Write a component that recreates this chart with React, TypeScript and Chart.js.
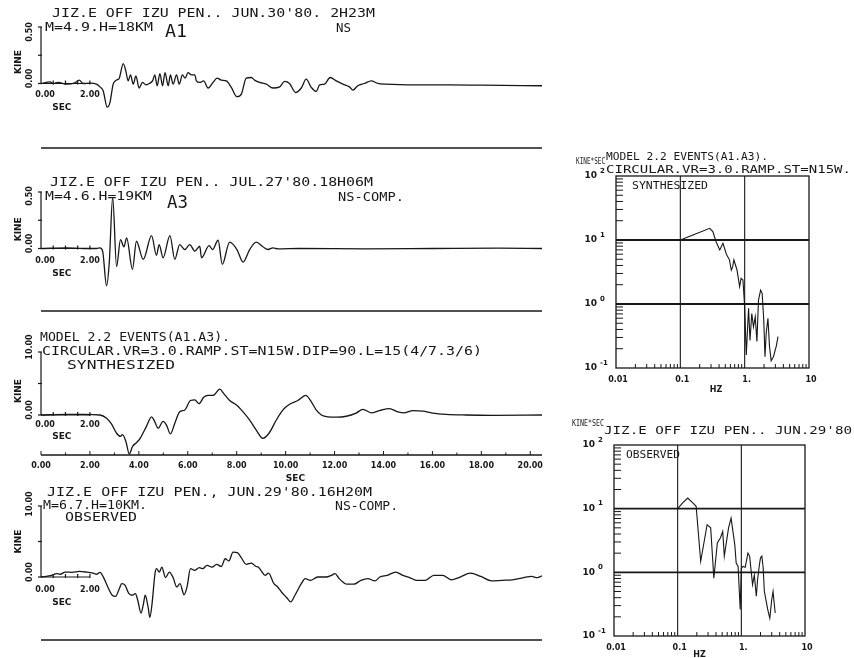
import React, { useEffect, useRef } from "react";
import { Chart, registerables } from "chart.js";

Chart.register(...registerables);

const INK = "#171717";
const MONO = '"DejaVu Sans Mono", monospace';
const SANS = '"DejaVu Sans", sans-serif';

// ---------- velocity seismograms: time (s) and amplitude (kine) ----------
const a1Sec = [0, 0.37, 0.5, 0.71, 1.05, 1.39, 1.56, 1.73, 2.0, 2.27, 2.41, 2.54, 2.71, 2.82, 2.95, 3.09, 3.2, 3.36, 3.47, 3.56, 3.66, 3.77, 3.88, 4.01, 4.15, 4.29, 4.42, 4.56, 4.65, 4.75, 4.86, 4.97, 5.07, 5.2, 5.29, 5.4, 5.54, 5.65, 5.78, 5.89, 6.01, 6.15, 6.29, 6.35, 6.49, 6.65, 6.83, 7.03, 7.2, 7.37, 7.58, 7.78, 8.01, 8.19, 8.39, 8.6, 8.73, 8.94, 9.21, 9.48, 9.76, 9.96, 10.16, 10.41, 10.64, 10.84, 11.05, 11.25, 11.39, 11.59, 11.82, 12.07, 12.34, 12.61, 12.75, 12.95, 13.22, 13.5, 13.77, 14.1, 15.33, 16.7, 18.05, 20.48];
const a1Kine = [0, 0.015, 0, 0.01, -0.006, 0.006, 0.03, 0, 0.003, -0.006, -0.03, -0.064, -0.21, -0.167, -0.006, 0.03, 0.047, 0.175, 0.11, 0.023, 0.076, -0.006, 0.067, -0.04, 0.009, -0.012, 0, 0.023, 0.076, -0.02, 0.088, -0.02, 0.096, -0.02, 0.076, -0.006, 0.076, -0.006, 0.076, 0.047, 0.096, 0.076, 0.076, 0.023, 0.009, 0.023, -0.04, 0.009, 0.047, 0.03, 0.023, -0.035, -0.117, -0.094, 0.047, 0.053, 0.03, 0.009, -0.006, -0.04, -0.03, 0.018, 0, -0.08, -0.04, 0.038, -0.035, -0.07, -0.012, -0.006, 0.053, 0.023, -0.006, -0.03, -0.058, -0.02, 0, 0.023, 0, -0.006, -0.012, -0.012, -0.015, -0.02];

const a3Sec = [0, 1.05, 1.73, 2.27, 2.41, 2.52, 2.68, 2.79, 2.93, 3.09, 3.25, 3.39, 3.5, 3.74, 3.9, 4.18, 4.52, 4.72, 4.83, 4.99, 5.27, 5.47, 5.67, 5.88, 6.08, 6.29, 6.49, 6.56, 6.87, 7.01, 7.24, 7.41, 7.71, 8.01, 8.26, 8.53, 8.8, 9.07, 9.28, 9.48, 9.69, 10.57, 13.29, 16.0, 18.7, 20.48];
const a3Kine = [0, 0.006, 0, 0, 0.006, -0.023, -0.33, -0.126, 0.453, -0.16, 0.079, 0.015, 0.094, -0.184, 0.064, -0.096, 0.114, -0.061, 0.035, -0.082, 0.114, -0.096, 0.035, -0.009, 0.035, -0.023, 0.02, -0.082, 0.026, -0.009, 0.073, -0.14, 0.056, -0.009, -0.12, -0.009, 0.056, 0.015, -0.009, 0.006, -0.003, 0, -0.003, 0, 0.003, 0];

const synSec = [0, 1.05, 1.73, 2.41, 2.68, 2.88, 3.09, 3.25, 3.33, 3.47, 3.61, 3.74, 3.9, 4.04, 4.31, 4.52, 4.63, 4.79, 4.99, 5.13, 5.29, 5.47, 5.67, 5.88, 6.11, 6.29, 6.46, 6.65, 6.83, 7.03, 7.31, 7.47, 7.71, 7.99, 8.26, 8.53, 8.8, 9.07, 9.32, 9.62, 9.89, 10.16, 10.5, 10.82, 11.05, 11.25, 11.46, 11.73, 12.07, 12.48, 12.88, 13.16, 13.5, 13.84, 14.24, 14.59, 14.86, 15.2, 15.61, 16.0, 16.56, 17.37, 18.46, 20.48];
const synKine = [0, 0.1, 0.1, 0, -0.5, -1.4, -2.9, -3.4, -3.1, -4.2, -6.2, -5.0, -4.4, -3.8, -1.8, -0.3, -0.9, -2.1, -1.0, -1.6, -3.0, -1.3, 0.5, 0.8, 2.3, 2.4, 1.8, 2.8, 3.1, 3.1, 4.1, 3.4, 2.3, 1.6, 0.5, -0.8, -2.4, -3.7, -2.9, -0.8, 0.8, 1.7, 2.3, 3.1, 2.1, 0.8, 0, -0.3, -0.35, -0.2, 0.3, 0.9, 0.35, 0.7, 1.0, 0.5, 0.35, 0.7, 0.6, 0.3, 0.1, 0, -0.05, 0];

const obsSec = [0, 0.21, 0.43, 0.64, 0.78, 0.99, 1.27, 1.57, 1.85, 2.13, 2.28, 2.41, 2.56, 2.73, 2.91, 3.05, 3.2, 3.3, 3.44, 3.58, 3.72, 3.86, 3.95, 4.09, 4.19, 4.26, 4.38, 4.45, 4.54, 4.66, 4.72, 4.84, 4.94, 5.09, 5.25, 5.4, 5.55, 5.68, 5.85, 5.97, 6.11, 6.28, 6.47, 6.61, 6.79, 6.99, 7.18, 7.37, 7.53, 7.68, 7.85, 8.03, 8.17, 8.39, 8.6, 8.79, 8.88, 8.99, 9.16, 9.3, 9.52, 9.66, 9.83, 10.02, 10.21, 10.38, 10.64, 10.8, 11.01, 11.31, 11.66, 11.87, 12.02, 12.19, 12.51, 12.79, 13.08, 13.36, 13.65, 13.85, 14.15, 14.5, 14.79, 15.07, 15.35, 15.71, 16.06, 16.42, 16.77, 17.13, 17.55, 17.98, 18.42, 18.84, 19.27, 19.73, 20.06, 20.28, 20.48];
const obsKine = [0, 0.08, 0.23, 0.47, 0.39, 0.7, 0.66, 0.78, 0.7, 0.55, 0.39, 0.66, -0.08, -1.4, -2.57, -2.73, -1.64, -0.94, -1.17, -2.26, -2.57, -2.34, -3.2, -5.07, -3.74, -2.57, -4.29, -5.69, -3.74, 0.47, 1.17, 0.7, 1.4, -0.08, 0.7, -0.08, -1.4, -0.94, -2.5, -1.4, 1.17, 0.94, 1.33, 1.17, 1.64, 1.4, 1.79, 1.48, 2.57, 2.26, 3.51, 3.43, 2.81, 1.79, 1.95, 1.48, 1.4, 0.94, 0.23, 0.55, -0.94, -1.33, -2.11, -2.81, -3.51, -2.57, -0.94, -0.23, -0.47, 0, 0, 0.23, 0.47, -0.23, -1.01, -1.01, -0.47, -0.23, -0.55, 0, 0.23, 0.7, 0.23, -0.08, -0.47, -0.47, 0.23, 0.23, -0.39, 0, 0.55, 0.08, -0.55, -0.47, -0.39, -0.08, 0.08, -0.08, 0.16];

// ---------- Fourier amplitude spectra: frequency (Hz) and amplitude (kine*sec) ----------
const synHz = [0.1, 0.157, 0.286, 0.32, 0.36, 0.41, 0.46, 0.52, 0.58, 0.62, 0.65, 0.68, 0.76, 0.835, 0.88, 0.94, 1.0, 1.06, 1.1, 1.15, 1.21, 1.29, 1.37, 1.46, 1.55, 1.64, 1.77, 1.87, 1.98, 2.07, 2.16, 2.3, 2.43, 2.58, 2.8, 3.1, 3.3];
const synAmp = [10, 12, 15.2, 13.5, 9.4, 7.0, 8.9, 6.0, 4.9, 3.4, 3.8, 4.9, 3.4, 1.87, 2.52, 2.37, 0.91, 0.16, 0.35, 0.86, 0.27, 0.71, 0.44, 0.63, 0.26, 1.15, 1.65, 1.47, 0.56, 0.15, 0.35, 0.6, 0.22, 0.13, 0.15, 0.22, 0.31];

const obsHz = [0.1, 0.12, 0.144, 0.173, 0.195, 0.23, 0.29, 0.33, 0.37, 0.42, 0.47, 0.51, 0.54, 0.63, 0.69, 0.79, 0.83, 0.89, 0.96, 1.0, 1.06, 1.15, 1.27, 1.35, 1.42, 1.5, 1.6, 1.72, 1.8, 1.9, 2.0, 2.1, 2.2, 2.3, 2.6, 2.8, 3.0, 3.15, 3.4];
const obsAmp = [10, 12.3, 14.7, 12.3, 10.9, 1.49, 5.6, 5.0, 0.81, 2.9, 3.5, 4.4, 1.8, 5.0, 7.1, 2.7, 1.4, 1.24, 0.26, 1.17, 1.24, 1.2, 2.0, 1.8, 1.1, 0.64, 0.9, 0.42, 0.77, 1.2, 1.7, 1.8, 1.2, 0.5, 0.26, 0.19, 0.37, 0.5, 0.23];

// ---------- axis ticks ----------
const secTicks = [0, 2, 4, 6, 8, 10, 12, 14, 16, 18, 20];
const secTickLabels = ["0.00", "2.00", "4.00", "6.00", "8.00", "10.00", "12.00", "14.00", "16.00", "18.00", "20.00"];
const hzTicks = [0.01, 0.1, 1, 10];
const hzTickLabels = ["0.01", "0.1", "1.", "10"];
const ampDecades = [100, 10, 1, 0.1];
const ampExponents = ["2", "1", "0", "-1"];

const SEC_MAX = 20.48;

type Label = {
  text: string;
  x: number;
  y: number;
  w?: number;
  size: number;
  bold?: boolean;
  font?: string;
  align?: CanvasTextAlign;
  rot?: boolean;
};

function drawLabel(ctx: CanvasRenderingContext2D, l: Label) {
  ctx.save();
  ctx.font = `${l.bold ? "bold " : ""}${l.size}px ${l.font ?? MONO}`;
  ctx.fillStyle = INK;
  ctx.textBaseline = "middle";
  ctx.translate(l.x, l.y);
  if (l.rot) ctx.rotate(-Math.PI / 2);
  if (l.w) {
    const m = ctx.measureText(l.text).width;
    ctx.scale(l.w / m, 1);
    ctx.textAlign = "left";
  } else {
    ctx.textAlign = l.align ?? "center";
  }
  ctx.fillText(l.text, 0, 0);
  ctx.restore();
}

function seg(ctx: CanvasRenderingContext2D, ax: number, ay: number, bx: number, by: number) {
  ctx.beginPath();
  ctx.moveTo(ax, ay);
  ctx.lineTo(bx, by);
  ctx.stroke();
}

// ---------- seismogram panels ----------
interface SeisPanel {
  top: number;
  height: number;
  padTop: number;
  padBottom: number;
  sec: number[];
  kine: number[];
  yMin: number;
  yMax: number;
  yTopLabel: string;
  topLabelDy: number;
  kineAt: number;
  labDy: number;
  secDy: number;
  fullAxis: boolean;
  titles: Label[];
}

const SEIS_LEFT = 41;
const SEIS_WIDTH = 560;
const SEIS_RIGHT_PAD = 18;

function seisPlugin(p: SeisPanel) {
  return {
    id: "seisFrame",
    afterDatasetsDraw(chart: any) {
      const ctx: CanvasRenderingContext2D = chart.ctx;
      const a = chart.chartArea;
      const X = (t: number) => chart.scales.x.getPixelForValue(t);
      const Y = (v: number) => chart.scales.y.getPixelForValue(v);
      const x0 = X(0);
      const y0 = Y(0);
      const yT = Y(p.yMax);
      ctx.save();
      ctx.strokeStyle = INK;
      ctx.lineWidth = 1.2;
      // amplitude axis
      seg(ctx, x0, y0, x0, yT);
      [0, p.yMax / 2, p.yMax].forEach((v) => seg(ctx, x0 - 3, Y(v), x0 + 1, Y(v)));
      // short time scale 0-2 s
      seg(ctx, x0, y0, X(2), y0);
      [0.5, 1, 1.5, 2].forEach((t) => seg(ctx, X(t), y0 + 1, X(t), y0 - 3));
      if (p.fullAxis) {
        ctx.lineWidth = 1.4;
        seg(ctx, a.left, a.bottom, a.right, a.bottom);
        ctx.lineWidth = 1;
        for (let t = 0; t <= 20; t++) seg(ctx, X(t), a.bottom, X(t), a.bottom - (t % 2 === 0 ? 4 : 2.5));
      } else {
        ctx.lineWidth = 1.7;
        seg(ctx, a.left, a.bottom, a.right, a.bottom);
      }
      ctx.restore();

      drawLabel(ctx, { text: p.yTopLabel, x: x0 - 11, y: yT + p.topLabelDy, size: 8, bold: true, font: SANS, rot: true });
      drawLabel(ctx, { text: "0.00", x: x0 - 11, y: y0 - 5, size: 8, bold: true, font: SANS, rot: true });
      drawLabel(ctx, { text: "KINE", x: x0 - 22, y: Y(p.kineAt), size: 9, bold: true, font: SANS, rot: true });
      drawLabel(ctx, { text: "0.00", x: X(0) + 4, y: y0 + p.labDy, size: 8, bold: true, font: SANS });
      drawLabel(ctx, { text: "2.00", x: X(2), y: y0 + p.labDy, size: 8, bold: true, font: SANS });
      drawLabel(ctx, { text: "SEC", x: X(0.85), y: y0 + p.secDy, size: 9, bold: true, font: SANS });
      if (p.fullAxis) {
        secTicks.forEach((t, i) =>
          drawLabel(ctx, { text: secTickLabels[i], x: X(t), y: a.bottom + 11, size: 8, bold: true, font: SANS })
        );
        drawLabel(ctx, { text: "SEC", x: X(10.4), y: a.bottom + 24, size: 9, bold: true, font: SANS });
      }
      p.titles.forEach((l) => drawLabel(ctx, { ...l, y: l.y - p.top }));
    },
  };
}

function buildSeis(p: SeisPanel) {
  return (canvas: HTMLCanvasElement) =>
    new Chart(canvas, {
      type: "line",
      data: {
        datasets: [
          {
            data: p.sec.map((t, i) => ({ x: t, y: p.kine[i] })),
            borderColor: INK,
            borderWidth: 1.3,
            pointRadius: 0,
            cubicInterpolationMode: "monotone",
            fill: false,
          },
        ],
      },
      options: {
        responsive: false,
        animation: false,
        devicePixelRatio: 1,
        events: [],
        layout: { padding: { left: SEIS_LEFT, right: SEIS_RIGHT_PAD, top: p.padTop, bottom: p.padBottom } },
        scales: {
          x: { type: "linear", min: 0, max: SEC_MAX, display: false },
          y: { type: "linear", min: p.yMin, max: p.yMax, display: false },
        },
        plugins: { legend: { display: false }, tooltip: { enabled: false } },
      },
      plugins: [seisPlugin(p)],
    } as any);
}

const panelA1: SeisPanel = {
  top: 0,
  height: 155,
  padTop: 27,
  padBottom: 7,
  sec: a1Sec,
  kine: a1Kine,
  yMin: -0.571,
  yMax: 0.5,
  yTopLabel: "0.50",
  topLabelDy: 5,
  kineAt: 0.19,
  labDy: 11,
  secDy: 24,
  fullAxis: false,
  titles: [
    { text: "JIZ.E OFF IZU PEN.. JUN.30'80. 2H23M", x: 52, y: 14, w: 323, size: 13 },
    { text: "M=4.9.H=18KM", x: 45, y: 28, w: 108, size: 13 },
    { text: "A1", x: 165, y: 33, w: 22, size: 17 },
    { text: "NS", x: 336, y: 29, w: 15, size: 13 },
  ],
};

const panelA3: SeisPanel = {
  top: 168,
  height: 150,
  padTop: 24,
  padBottom: 7,
  sec: a3Sec,
  kine: a3Kine,
  yMin: -0.553,
  yMax: 0.5,
  yTopLabel: "0.50",
  topLabelDy: 4,
  kineAt: 0.17,
  labDy: 12,
  secDy: 25,
  fullAxis: false,
  titles: [
    { text: "JIZ.E OFF IZU PEN.. JUL.27'80.18H06M", x: 50, y: 183, w: 323, size: 13 },
    { text: "M=4.6.H=19KM", x: 45, y: 197, w: 107, size: 13 },
    { text: "A3", x: 167, y: 204, w: 21, size: 17 },
    { text: "NS-COMP.", x: 338, y: 198, w: 66, size: 13 },
  ],
};

const panelSyn: SeisPanel = {
  top: 322,
  height: 173,
  padTop: 30,
  padBottom: 40,
  sec: synSec,
  kine: synKine,
  yMin: -6.35,
  yMax: 10,
  yTopLabel: "10.00",
  topLabelDy: -5,
  kineAt: 3.8,
  labDy: 10,
  secDy: 22,
  fullAxis: true,
  titles: [
    { text: "MODEL 2.2 EVENTS(A1.A3).", x: 40, y: 338, w: 190, size: 13 },
    { text: "CIRCULAR.VR=3.0.RAMP.ST=N15W.DIP=90.L=15(4/7.3/6)", x: 42, y: 352, w: 440, size: 13 },
    { text: "SYNTHESIZED", x: 67, y: 366, w: 108, size: 13 },
  ],
};

const panelObs: SeisPanel = {
  top: 480,
  height: 170,
  padTop: 26,
  padBottom: 10,
  sec: obsSec,
  kine: obsKine,
  yMin: -8.87,
  yMax: 10,
  yTopLabel: "10.00",
  topLabelDy: -2,
  kineAt: 5,
  labDy: 13,
  secDy: 26,
  fullAxis: false,
  titles: [
    { text: "JIZ.E OFF IZU PEN., JUN.29'80.16H20M", x: 47, y: 493, w: 325, size: 13 },
    { text: "M=6.7.H=10KM.", x: 43, y: 506, w: 104, size: 13 },
    { text: "NS-COMP.", x: 335, y: 507, w: 63, size: 13 },
    { text: "OBSERVED", x: 65, y: 518, w: 72, size: 13 },
  ],
};

// ---------- spectrum panels ----------
interface SpecPanel {
  left: number;
  top: number;
  width: number;
  height: number;
  pad: { left: number; right: number; top: number; bottom: number };
  hz: number[];
  amp: number[];
  hzLabelAt: number;
  hzLabelDy: number;
  titles: Label[];
}

function specPlugin(s: SpecPanel) {
  return {
    id: "specFrame",
    afterDatasetsDraw(chart: any) {
      const ctx: CanvasRenderingContext2D = chart.ctx;
      const a = chart.chartArea;
      const X = (f: number) => chart.scales.x.getPixelForValue(f);
      const Y = (v: number) => chart.scales.y.getPixelForValue(v);
      ctx.save();
      ctx.strokeStyle = INK;
      ctx.lineWidth = 1.3;
      ctx.strokeRect(a.left, a.top, a.right - a.left, a.bottom - a.top);
      ctx.lineWidth = 1.1;
      [0.1, 1].forEach((f) => seg(ctx, X(f), a.top, X(f), a.bottom));
      ctx.lineWidth = 1.8;
      [1, 10].forEach((v) => seg(ctx, a.left, Y(v), a.right, Y(v)));
      ctx.lineWidth = 1;
      for (const d of [0.1, 1, 10]) for (let m = 2; m <= 9; m++) seg(ctx, a.left, Y(m * d), a.left + 7, Y(m * d));
      for (const d of [0.01, 0.1, 1]) for (let m = 2; m <= 9; m++) seg(ctx, X(m * d), a.bottom, X(m * d), a.bottom - 4);
      ctx.restore();

      ampDecades.forEach((v, i) => {
        drawLabel(ctx, { text: "10", x: a.left - 19, y: Y(v), size: 9, bold: true, font: SANS, align: "right" });
        drawLabel(ctx, { text: ampExponents[i], x: a.left - 16, y: Y(v) - 5, size: 7, bold: true, font: SANS, align: "left" });
      });
      hzTicks.forEach((f, i) =>
        drawLabel(ctx, { text: hzTickLabels[i], x: X(f) + 2, y: a.bottom + 12, size: 8, bold: true, font: SANS })
      );
      drawLabel(ctx, { text: "HZ", x: X(s.hzLabelAt), y: a.bottom + s.hzLabelDy, size: 8, bold: true, font: SANS });
      s.titles.forEach((l) => drawLabel(ctx, { ...l, x: l.x - s.left, y: l.y - s.top }));
    },
  };
}

function buildSpec(s: SpecPanel) {
  return (canvas: HTMLCanvasElement) =>
    new Chart(canvas, {
      type: "line",
      data: {
        datasets: [
          {
            data: s.hz.map((f, i) => ({ x: f, y: s.amp[i] })),
            borderColor: INK,
            borderWidth: 1.1,
            pointRadius: 0,
            tension: 0,
            fill: false,
          },
        ],
      },
      options: {
        responsive: false,
        animation: false,
        devicePixelRatio: 1,
        events: [],
        layout: { padding: s.pad },
        scales: {
          x: { type: "logarithmic", min: 0.01, max: 10, display: false },
          y: { type: "logarithmic", min: 0.1, max: 100, display: false },
        },
        plugins: { legend: { display: false }, tooltip: { enabled: false } },
      },
      plugins: [specPlugin(s)],
    } as any);
}

const specSyn: SpecPanel = {
  left: 560,
  top: 148,
  width: 294,
  height: 252,
  pad: { left: 56, right: 45, top: 28, bottom: 32 },
  hz: synHz,
  amp: synAmp,
  hzLabelAt: 0.36,
  hzLabelDy: 22,
  titles: [
    { text: "KINE*SEC", x: 576, y: 162, w: 29, size: 9 },
    { text: "MODEL 2.2 EVENTS(A1.A3).", x: 606, y: 157, w: 162, size: 11 },
    { text: "CIRCULAR.VR=3.0.RAMP.ST=N15W.", x: 606, y: 170, w: 245, size: 11 },
    { text: "SYNTHESIZED", x: 632, y: 186, w: 76, size: 10 },
  ],
};

const specObs: SpecPanel = {
  left: 560,
  top: 415,
  width: 294,
  height: 243,
  pad: { left: 54, right: 49, top: 30, bottom: 22 },
  hz: obsHz,
  amp: obsAmp,
  hzLabelAt: 0.22,
  hzLabelDy: 19,
  titles: [
    { text: "KINE*SEC", x: 572, y: 424, w: 32, size: 9 },
    { text: "JIZ.E OFF IZU PEN.. JUN.29'80", x: 604, y: 431, w: 248, size: 11 },
    { text: "OBSERVED", x: 626, y: 455, w: 54, size: 10 },
  ],
};

const builders = {
  a1: buildSeis(panelA1),
  a3: buildSeis(panelA3),
  syn: buildSeis(panelSyn),
  obs: buildSeis(panelObs),
  specSyn: buildSpec(specSyn),
  specObs: buildSpec(specObs),
};

function Plot(props: {
  left: number;
  top: number;
  width: number;
  height: number;
  build: (c: HTMLCanvasElement) => Chart;
}) {
  const ref = useRef<HTMLCanvasElement>(null);
  const { build } = props;
  useEffect(() => {
    if (!ref.current) return;
    const chart = build(ref.current);
    return () => chart.destroy();
  }, [build]);
  return (
    <canvas
      ref={ref}
      width={props.width}
      height={props.height}
      style={{ position: "absolute", left: props.left, top: props.top, width: props.width, height: props.height }}
    />
  );
}

export default function App() {
  return (
    <div style={{ position: "absolute", left: 0, top: 0, width: 854, height: 658, background: "#fff", overflow: "hidden" }}>
      <Plot left={0} top={panelA1.top} width={SEIS_WIDTH} height={panelA1.height} build={builders.a1} />
      <Plot left={0} top={panelA3.top} width={SEIS_WIDTH} height={panelA3.height} build={builders.a3} />
      <Plot left={0} top={panelSyn.top} width={SEIS_WIDTH} height={panelSyn.height} build={builders.syn} />
      <Plot left={0} top={panelObs.top} width={SEIS_WIDTH} height={panelObs.height} build={builders.obs} />
      <Plot left={specSyn.left} top={specSyn.top} width={specSyn.width} height={specSyn.height} build={builders.specSyn} />
      <Plot left={specObs.left} top={specObs.top} width={specObs.width} height={specObs.height} build={builders.specObs} />
    </div>
  );
}
